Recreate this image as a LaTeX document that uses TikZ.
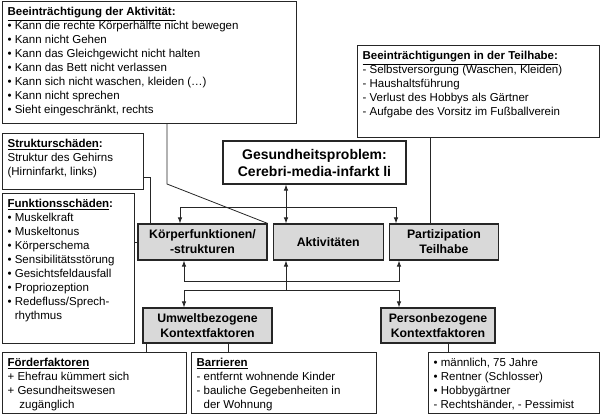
\documentclass[tikz,border=0pt]{standalone}
\usepackage{fontspec}
\setmainfont{Liberation Sans}
\usepackage{tikz}
\usetikzlibrary{positioning,arrows.meta}

\begin{document}
\begin{tikzpicture}[
    x=1pt, y=-1pt,
    >={Latex[length=6pt,width=4.5pt]},
    info/.style   = {draw=black!85, line width=1.2pt, anchor=north west,
                     inner xsep=5pt, inner ysep=4.5pt, align=left,
                     font=\fontsize{11.5}{14}\selectfont},
    comp/.style   = {draw=black!85, line width=1.2pt, fill=black!15,
                     minimum height=36pt, align=center, inner sep=2pt,
                     font=\fontsize{12.3}{15}\selectfont\bfseries},
    line/.style   = {draw=black!85, line width=0.8pt},
    arr/.style    = {line, ->},
    darr/.style   = {line, <->}
]
\useasboundingbox (0,0) rectangle (600,414);

% ICF components
\node[comp, minimum width=183pt, minimum height=43pt, fill=white,
      font=\fontsize{14}{17}\selectfont\bfseries] (health) at (314.5,162.5)
      {Gesundheitsproblem:\\Cerebri-media-infarkt li};
\node[comp, minimum width=129pt] (koerper) at (202.5,242) {Körperfunktionen/\\-strukturen};
\node[comp, minimum width=110pt, right=5pt of koerper] (akt) {Aktivitäten};
\node[comp, minimum width=109pt, right=5pt of akt] (part) {Partizipation\\Teilhabe};
\node[comp, minimum width=129pt, minimum height=35pt] (umwelt) at (207.5,325.5) {Umweltbezogene\\Kontextfaktoren};
\node[comp, minimum width=114pt, minimum height=35pt] (person) at (438,325.5) {Personbezogene\\Kontextfaktoren};

% case notes
\node[info] (aktbox) at (2,1) {\parbox[t][113pt][t]{284pt}{\strut\textbf{\underline{Beeinträchtigung der Aktivität:}}\\
  \textbullet\ Kann die rechte Körperhälfte nicht bewegen\\
  \textbullet\ Kann nicht Gehen\\
  \textbullet\ Kann das Gleichgewicht nicht halten\\
  \textbullet\ Kann das Bett nicht verlassen\\
  \textbullet\ Kann sich nicht waschen, kleiden (…)\\
  \textbullet\ Kann nicht sprechen\\
  \textbullet\ Sieht eingeschränkt, rechts}};
\node[info] (teilbox) at (357,45) {\parbox[t][83pt][t]{232pt}{\strut\textbf{\underline{Beeinträchtigungen in der Teilhabe:}}\\
  - Selbstversorgung (Waschen, Kleiden)\\
  - Haushaltsführung\\
  - Verlust des Hobbys als Gärtner\\
  - Aufgabe des Vorsitz im Fußballverein}};
\node[info] (strukbox) at (2,133) {\parbox[t][47pt][t]{131pt}{\strut\textbf{\underline{Strukturschäden}:}\\
  Struktur des Gehirns\\
  (Hirninfarkt, links)}};
\node[info] (funkbox) at (2,193) {\parbox[t][141pt][t]{122pt}{\strut\textbf{\underline{Funktionsschäden}:}\\
  \textbullet\ Muskelkraft\\
  \textbullet\ Muskeltonus\\
  \textbullet\ Körperschema\\
  \textbullet\ Sensibilitätsstörung\\
  \textbullet\ Gesichtsfeldausfall\\
  \textbullet\ Propriozeption\\
  \textbullet\ Redefluss/Sprech-\\
  \phantom{\textbullet\ }rhythmus}};
\node[info] (foerd) at (2,352) {\parbox[t][52pt][t]{174pt}{\strut\textbf{\underline{Förderfaktoren}}\\
  + Ehefrau kümmert sich\\
  + Gesundheitswesen\\
  \phantom{+ }\,zugänglich}};
\node[info] (barr) at (191,352) {\parbox[t][52pt][t]{175pt}{\strut\textbf{\underline{Barrieren}}\\
  - entfernt wohnende Kinder\\
  - bauliche Gegebenheiten in\\
  \phantom{- }der Wohnung}};
\node[info] (persbox) at (428,352) {\parbox[t][52pt][t]{161pt}{\strut\textbullet\ männlich, 75 Jahre\\
  \textbullet\ Rentner (Schlosser)\\
  \textbullet\ Hobbygärtner\\
  - Rechtshänder, - Pessimist}};

% junctions
\coordinate (hx) at (286,0);
\coordinate (tl) at (180,207);
\coordinate (tr) at (396,207);
\coordinate (bl) at (184,281);
\coordinate (br) at (399,281);
\coordinate (dl) at (184,290);
\coordinate (dr) at (399,290);
\coordinate (ak) at (167,184);
\coordinate (sk) at (150,177);
\coordinate (tk) at (430,0);
\coordinate (u1) at (146,0);
\coordinate (u2) at (228,0);
\coordinate (p1) at (448,0);

\draw[darr] (hx |- health.south) -- (hx |- akt.north);
\draw[darr] (tl |- koerper.north) -- (tl) -- (tr) -- (tr |- part.north);
\draw[darr] (bl |- koerper.south) -- (bl) -- (br) -- (br |- part.south);
\draw[darr] (dl |- umwelt.north) -- (dl) -- (dr) -- (dr |- person.north);
\draw[arr]  (hx |- dl) -- (hx |- akt.south);

\draw[line] (ak |- aktbox.south) -- (ak) -- (koerper.north east);
\draw[line] (strukbox.east |- sk) -- (sk) -- (sk |- koerper.north);
\draw[line] (funkbox.east |- koerper.west) -- (koerper.west);
\draw[line] (tk |- teilbox.south) -- (tk |- part.north);
\draw[line] (u1 |- umwelt.south) -- (u1 |- foerd.north);
\draw[line] (u2 |- umwelt.south) -- (u2 |- barr.north);
\draw[line] (p1 |- person.south) -- (p1 |- persbox.north);

\end{tikzpicture}
\end{document}
